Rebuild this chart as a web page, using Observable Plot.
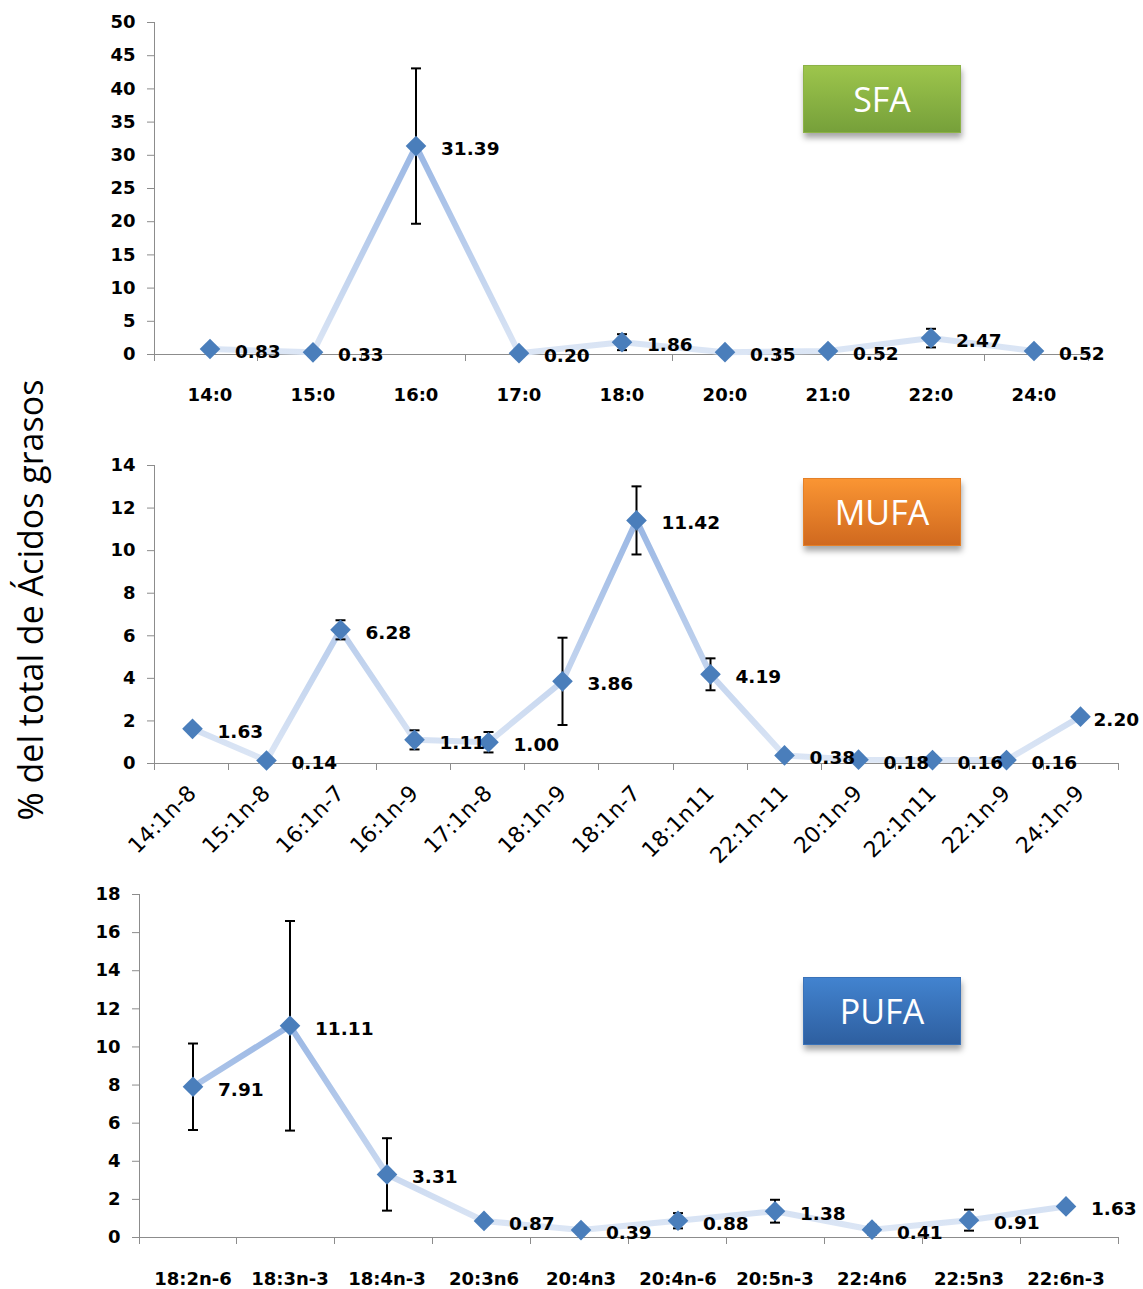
<!DOCTYPE html>
<html>
<head>
<meta charset="utf-8">
<script src="https://cdn.jsdelivr.net/npm/d3@7"></script>
<script src="https://cdn.jsdelivr.net/npm/@observablehq/plot@0.6"></script>
<style>
  html, body { margin: 0; padding: 0; background: #fff; overflow: hidden; }
  #wrap { position: relative; width: 1143px; height: 1289px; overflow: hidden; background: #fff; }
  #wrap svg { position: absolute; left: 0; }
  .badge { position: absolute; left: 803px; width: 158px; height: 68px; color: #fff;
    font-family: "Open Sans", sans-serif; font-size: 34px; display: flex; align-items: center;
    justify-content: center; box-shadow: 1px 5px 6px rgba(0,0,0,0.35); box-sizing: border-box; }
  #ytitle { position: absolute; left: -270px; top: 578px; width: 600px; height: 44px; line-height: 44px;
    text-align: center; transform: rotate(-90deg); font-family: "Open Sans", sans-serif; font-size: 34px; color: #000; }
</style>
</head>
<body>
<div id="wrap">
  <div id="ytitle"></div>
</div>
<script>
// ---------- DATA ----------
const sfaCats = ["14:0","15:0","16:0","17:0","18:0","20:0","21:0","22:0","24:0"];
const sfaVals = [0.83, 0.33, 31.39, 0.20, 1.86, 0.35, 0.52, 2.47, 0.52];
const sfaErrs = [0, 0, 11.7, 0, 1.2, 0, 0, 1.4, 0];
const sfaTicks = [0,5,10,15,20,25,30,35,40,45,50];

const mufaCats = ["14:1n-8","15:1n-8","16:1n-7","16:1n-9","17:1n-8","18:1n-9","18:1n-7","18:1n11","22:1n-11","20:1n-9","22:1n11","22:1n-9","24:1n-9"];
const mufaVals = [1.63, 0.14, 6.28, 1.11, 1.00, 3.86, 11.42, 4.19, 0.38, 0.18, 0.16, 0.16, 2.20];
const mufaErrs = [0, 0, 0.45, 0.45, 0.48, 2.05, 1.6, 0.75, 0, 0, 0, 0, 0];
const mufaTicks = [0,2,4,6,8,10,12,14];

const pufaCats = ["18:2n-6","18:3n-3","18:4n-3","20:3n6","20:4n3","20:4n-6","20:5n-3","22:4n6","22:5n3","22:6n-3"];
const pufaVals = [7.91, 11.11, 3.31, 0.87, 0.39, 0.88, 1.38, 0.41, 0.91, 1.63];
const pufaErrs = [2.27, 5.5, 1.9, 0, 0, 0.4, 0.6, 0.25, 0.55, 0];
const pufaTicks = [0,2,4,6,8,10,12,14,16,18];

const groupNames = ["SFA", "MUFA", "PUFA"];
const yTitle = "% del total de Ácidos grasos";

// ---------- DRAWING ----------
const NS = "http://www.w3.org/2000/svg";
const fmt = d3.format(".2f");
const capSymbol = { draw(ctx) { ctx.moveTo(-5, 0); ctx.lineTo(5, 0); } };
const wrap = document.getElementById("wrap");

// axis lines (Excel style), boundary tick marks and the line gradient
function frameMark(n, gradId) {
  return (index, scales, values, dims) => {
    const { width, marginLeft, marginRight, marginTop } = dims;
    const g = document.createElementNS(NS, "g");
    const defs = document.createElementNS(NS, "defs");
    const lg = document.createElementNS(NS, "linearGradient");
    lg.setAttribute("id", gradId);
    lg.setAttribute("x1", "0"); lg.setAttribute("y1", "0");
    lg.setAttribute("x2", "0"); lg.setAttribute("y2", "1");
    [["0%", "#9ab7e4"], ["100%", "#dce6f5"]].forEach(([o, c]) => {
      const s = document.createElementNS(NS, "stop");
      s.setAttribute("offset", o); s.setAttribute("stop-color", c);
      lg.appendChild(s);
    });
    defs.appendChild(lg);
    g.appendChild(defs);
    const lines = document.createElementNS(NS, "g");
    lines.setAttribute("stroke", "#8c8c8c");
    lines.setAttribute("stroke-width", "1");
    lines.setAttribute("shape-rendering", "crispEdges");
    const add = (x1, y1, x2, y2) => {
      const l = document.createElementNS(NS, "line");
      l.setAttribute("x1", x1); l.setAttribute("y1", y1);
      l.setAttribute("x2", x2); l.setAttribute("y2", y2);
      lines.appendChild(l);
    };
    const y0 = scales.y(0);
    const x0 = marginLeft, x1 = width - marginRight;
    add(x0, marginTop, x0, y0);
    add(x0, y0, x1, y0);
    const step = (x1 - x0) / n;
    for (let i = 0; i <= n; i++) add(x0 + i * step, y0, x0 + i * step, y0 + 7);
    g.appendChild(lines);
    return g;
  };
}

function build(cfg) {
  const data = cfg.cats.map((c, i) => ({ cat: c, v: cfg.vals[i], e: cfg.errs[i] }));
  const withErr = data.filter(d => d.e > 0);
  const nudge = cfg.nudge || {};
  const main = data.filter(d => !(d.cat in nudge));
  const nudged = data.filter(d => d.cat in nudge);
  const svg = Plot.plot({
    width: 1143,
    height: cfg.height,
    marginTop: cfg.marginTop,
    marginBottom: cfg.marginBottom,
    marginLeft: cfg.marginLeft,
    marginRight: cfg.marginRight,
    style: { fontFamily: "DejaVu Sans", fontSize: "18px", fontWeight: "bold", color: "#000", background: "transparent" },
    x: { type: "band", domain: cfg.cats, padding: 0, label: null },
    y: { domain: [0, cfg.ticks[cfg.ticks.length - 1]], label: null },
    marks: [
      frameMark(cfg.cats.length, cfg.id),
      Plot.axisY({ ticks: cfg.ticks, tickSize: 7, tickPadding: 12, stroke: "#8c8c8c", fill: "#000", label: null }),
      Plot.axisX({ tickSize: 0, tickPadding: cfg.tickPadding, tickRotate: cfg.rotate || 0,
        fontWeight: cfg.xBold ? "bold" : "normal", fontSize: cfg.xFontSize || 18, fill: "#000", label: null }),
      Plot.line(data, { x: "cat", y: "v", stroke: `url(#${cfg.id})`, strokeWidth: 6, strokeLinejoin: "round", strokeLinecap: "round" }),
      Plot.ruleX(withErr, { x: "cat", y1: d => d.v - d.e, y2: d => d.v + d.e, stroke: "#000", strokeWidth: 2 }),
      Plot.dot(withErr, { x: "cat", y: d => d.v + d.e, symbol: capSymbol, r: 2, fill: "none", stroke: "#000", strokeWidth: 2 }),
      Plot.dot(withErr, { x: "cat", y: d => d.v - d.e, symbol: capSymbol, r: 2, fill: "none", stroke: "#000", strokeWidth: 2 }),
      Plot.dot(data, { x: "cat", y: "v", symbol: "diamond2", r: 9.3, fill: "#4a7ebb", stroke: "none" }),
      Plot.text(main, { x: "cat", y: "v", text: d => fmt(d.v), dx: 25, dy: 3, textAnchor: "start", fill: "#000", fontWeight: "bold", fontSize: 18.5 }),
      Plot.text(nudged, { x: "cat", y: "v", text: d => fmt(d.v), dx: 13, dy: 3, textAnchor: "start", fill: "#000", fontWeight: "bold", fontSize: 18.5 })
    ]
  });
  svg.style.top = cfg.top + "px";
  wrap.appendChild(svg);
}

build({ id: "gSFA", cats: sfaCats, vals: sfaVals, errs: sfaErrs, ticks: sfaTicks,
  top: 0, height: 420, marginTop: 22, marginBottom: 66, marginLeft: 154, marginRight: 55,
  tickPadding: 34, xBold: true });
build({ id: "gMUFA", cats: mufaCats, vals: mufaVals, errs: mufaErrs, ticks: mufaTicks,
  top: 440, height: 440, marginTop: 25, marginBottom: 117, marginLeft: 154, marginRight: 25,
  tickPadding: 26, rotate: -45, xBold: false, xFontSize: 22, nudge: { "24:1n-9": true } });
build({ id: "gPUFA", cats: pufaCats, vals: pufaVals, errs: pufaErrs, ticks: pufaTicks,
  top: 880, height: 409, marginTop: 14, marginBottom: 52, marginLeft: 139, marginRight: 25,
  tickPadding: 35, xBold: true });

// group badges
const badgeStyles = [
  { top: 65, bg: "linear-gradient(#9dc54c, #76a03a)", border: "#8cb247" },
  { top: 478, bg: "linear-gradient(#fa9533, #d0691f)", border: "#e48028" },
  { top: 977, bg: "linear-gradient(#4283cf, #2e5fa0)", border: "#3a72b8" }
];
groupNames.forEach((name, i) => {
  const b = document.createElement("div");
  b.className = "badge";
  b.textContent = name;
  b.style.top = badgeStyles[i].top + "px";
  b.style.background = badgeStyles[i].bg;
  b.style.border = "1px solid " + badgeStyles[i].border;
  wrap.appendChild(b);
});
document.getElementById("ytitle").textContent = yTitle;
</script>
</body>
</html>
